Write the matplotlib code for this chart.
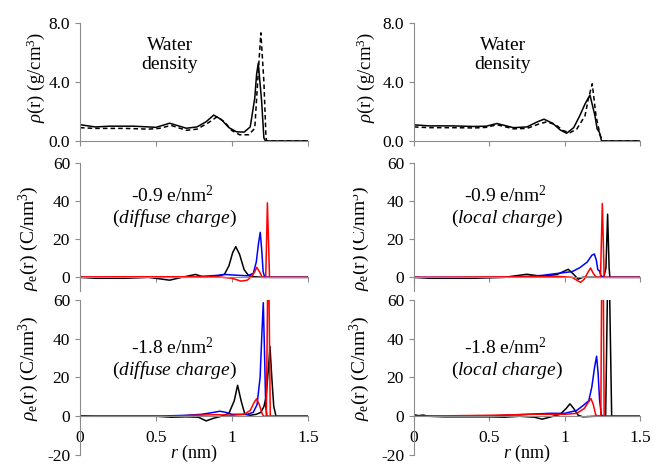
import matplotlib
matplotlib.use('Agg')
import matplotlib.pyplot as plt
from matplotlib.transforms import Bbox, TransformedBbox

plt.rcParams['font.family'] = 'Liberation Serif'
plt.rcParams['mathtext.fontset'] = 'custom'
plt.rcParams['mathtext.rm'] = 'Liberation Serif'
plt.rcParams['mathtext.it'] = 'Liberation Serif:italic'
plt.rcParams['axes.unicode_minus'] = False

# ---- water density, diffuse charge column (g/cm3)
r_wat_dif_solid = [0, 0.1, 0.2, 0.35, 0.45, 0.5, 0.59, 0.7, 0.77, 0.83, 0.88, 0.93, 0.98,
                   1.03, 1.08, 1.12, 1.15, 1.162, 1.173, 1.195, 1.21, 1.22, 1.5]
wat_dif_solid = [1.1, 0.95, 1.0, 1.0, 0.95, 0.92, 1.2, 0.86, 0.95, 1.3, 1.75, 1.45, 0.9,
                 0.62, 0.6, 0.95, 2.9, 4.5, 5.25, 2.7, 0.2, 0.0, 0.0]
r_wat_dif_dash = [0, 0.1, 0.3, 0.45, 0.52, 0.6, 0.7, 0.77, 0.84, 0.9, 0.95, 1.0, 1.05,
                  1.11, 1.15, 1.169, 1.19, 1.21, 1.224, 1.23, 1.5]
wat_dif_dash = [0.9, 0.85, 0.85, 0.8, 0.85, 1.05, 0.72, 0.8, 1.2, 1.62, 1.3, 0.7, 0.42,
                0.42, 0.85, 4.0, 7.3, 4.0, 0.2, 0.0, 0.0]

# ---- water density, local charge column
r_wat_loc_solid = [0, 0.1, 0.25, 0.4, 0.48, 0.55, 0.66, 0.75, 0.82, 0.863, 0.92, 0.97, 1.013,
                   1.06, 1.1, 1.135, 1.168, 1.201, 1.216, 1.23, 1.245, 1.5]
wat_loc_solid = [1.09, 1.02, 1.02, 0.98, 1.0, 1.18, 0.9, 0.95, 1.3, 1.47, 1.2, 0.75, 0.52,
                 0.9, 1.7, 2.5, 3.1, 1.7, 0.8, 0.6, 0.0, 0.0]
r_wat_loc_dash = [0, 0.1, 0.25, 0.4, 0.48, 0.55, 0.66, 0.75, 0.83, 0.88, 0.94, 0.99, 1.035,
                  1.08, 1.135, 1.157, 1.183, 1.208, 1.234, 1.25, 1.5]
wat_loc_dash = [0.95, 0.9, 0.9, 0.88, 0.92, 1.1, 0.82, 0.85, 1.15, 1.29, 1.1, 0.7, 0.56,
                0.8, 1.7, 2.84, 3.86, 1.7, 0.45, 0.0, 0.0]

# ---- charge density, -0.9 e/nm2, diffuse charge (C/nm3)
r_q09_dif_k = [0, 0.1, 0.3, 0.45, 0.59, 0.67, 0.76, 0.82, 0.9, 0.95, 0.98, 1.005, 1.025,
               1.05, 1.08, 1.11, 1.15, 1.2, 1.5]
q09_dif_k = [0, -0.5, -0.5, 0, -1.5, 0, 1.5, 0, 0.5, 1.5, 6, 13, 16, 12, 4, 0.8, 0.3, 0, 0]
r_q09_dif_b = [0, 0.7, 0.8, 0.9, 0.95, 1.05, 1.1, 1.14, 1.16, 1.175, 1.186, 1.195, 1.205,
               1.215, 1.5]
q09_dif_b = [0, 0, 0.5, 1.0, 1.5, 1.0, 0.8, 2, 8, 18, 23.5, 15, 3, 0, 0]
r_q09_dif_r = [0, 0.3, 0.5, 0.9, 1.0, 1.06, 1.1, 1.13, 1.15, 1.163, 1.18, 1.2, 1.222,
               1.228, 1.233, 1.24, 1.247, 1.5]
q09_dif_r = [0.2, 0.3, 0.3, 0.3, -0.5, -2, -1.5, 0.5, 3, 5.2, 3, 0, 0, 20, 38.9, 20, 0, 0]

# ---- charge density, -0.9 e/nm2, local charge
r_q09_loc_k = [0, 0.1, 0.4, 0.6, 0.75, 0.85, 0.95, 1.024, 1.06, 1.09, 1.12, 1.26, 1.274,
               1.285, 1.295, 1.3, 1.5]
q09_loc_k = [0, -0.5, -0.5, 0, 1.6, 0.5, 1.5, 4.2, 1.5, -1, 0, 0, 5, 33, 5, 0, 0]
r_q09_loc_b = [0, 0.6, 0.75, 0.85, 0.95, 1.05, 1.1, 1.15, 1.18, 1.197, 1.21, 1.22, 1.23,
               1.24, 1.255, 1.5]
q09_loc_b = [0, 0, 0.5, 1, 2, 3, 5, 8, 11.5, 12.2, 9, 4, 3.5, 1, 0, 0]
r_q09_loc_r = [0, 0.5, 0.9, 0.95, 1.05, 1.09, 1.106, 1.13, 1.15, 1.172, 1.19, 1.21, 1.238,
               1.244, 1.25, 1.256, 1.262, 1.5]
q09_loc_r = [0, 0.2, 0.3, 0.5, 0, -2, -2.6, -1, 2, 4.9, 2, 0, 0, 20, 38.6, 20, 0, 0]

# ---- charge density, -1.8 e/nm2, diffuse charge
r_q18_dif_k = [0, 0.1, 0.5, 0.6, 0.7, 0.78, 0.83, 0.88, 0.93, 0.98, 1.015, 1.037, 1.06,
               1.085, 1.12, 1.16, 1.19, 1.21, 1.225, 1.24, 1.25, 1.262, 1.275, 1.29, 1.5]
q18_dif_k = [0.3, 0, 0, -0.5, -0.3, -0.5, -2.4, -1, 0, 1.5, 8, 16, 8, 1, 0.5, 1, 2, 5,
             10, 25, 36, 20, 5, 0, 0]
r_q18_dif_b = [0, 0.5, 0.7, 0.8, 0.88, 0.92, 0.96, 1.0, 1.05, 1.1, 1.14, 1.165, 1.185,
               1.198, 1.206, 1.215, 1.222, 1.23, 1.5]
q18_dif_b = [0, 0, 0.5, 1, 2, 2.6, 2, 1, 1, 1, 2, 6, 20, 45, 58.6, 30, 5, 0, 0]
r_q18_dif_r = [0, 0.6, 0.75, 0.9, 1.0, 1.08, 1.12, 1.145, 1.162, 1.18, 1.2, 1.21, 1.226,
               1.236, 1.242, 1.252, 1.5]
q18_dif_r = [0, 0, 0.5, 0.8, 0.5, 1, 3, 7, 9, 6, 1, 0, 0, 75, 75, 0, 0]

# ---- charge density, -1.8 e/nm2, local charge
r_q18_loc_k = [0, 0.03, 0.06, 0.1, 0.2, 0.5, 0.6, 0.7, 0.8, 0.85, 0.9, 0.97, 1.01, 1.035,
               1.06, 1.09, 1.12, 1.2, 1.272, 1.285, 1.297, 1.312, 1.5]
q18_loc_k = [0.8, 0.3, 0.6, 0, -0.3, -0.3, -0.5, 0, -0.5, -1.5, -0.5, 1, 4, 6.4, 4, 0.5,
             -0.3, 0, 0, 70, 70, 0, 0]
r_q18_loc_b = [0, 0.5, 0.6, 0.75, 0.9, 1.0, 1.08, 1.13, 1.16, 1.18, 1.198, 1.212, 1.222,
               1.232, 1.243, 1.25, 1.5]
q18_loc_b = [0, 0, 0.5, 1, 1.5, 1.5, 3, 6, 8, 15, 25, 31, 22, 8, 1, 0, 0]
r_q18_loc_r = [0, 0.5, 0.8, 1.0, 1.08, 1.13, 1.155, 1.175, 1.19, 1.205, 1.215, 1.24,
               1.246, 1.256, 1.262, 1.5]
q18_loc_r = [0, 0.5, 1, 1, 1.5, 4, 7, 9.1, 6, 1, 0, 0, 75, 75, 0, 0]

x_ticks = [0, 0.5, 1, 1.5]
x_tick_labels = ['0', '0.5', '1', '1.5']

AXIS_GRAY = '#8c8c8c'
LW = 1.1

fig = plt.figure(figsize=(6.54, 4.67), dpi=100)

col_left = [0.1223, 0.6330]
col_width = [0.3486, 0.3456]
row_rect = [(0.6981, 0.2537), (0.3775, 0.2745), (0.0257, 0.3319)]
row_ylim = [(0, 8), (-7, 60), (-20, 60)]
ylabel_y = [0.54, 0.41, 0.56]
# ylabel x offsets (axes fraction), per row and column
ylabel_x = [(-0.195, -0.215), (-0.224, -0.239), (-0.224, -0.239)]


def style_axes(ax, row):
    for side in ['top', 'right']:
        ax.spines[side].set_visible(False)
    ax.spines['left'].set_color(AXIS_GRAY)
    ax.spines['bottom'].set_color(AXIS_GRAY)
    ax.spines['bottom'].set_position(('data', 0))
    ax.tick_params(axis='both', direction='out', length=3.6, width=0.8,
                   color=AXIS_GRAY, labelsize=12.5)
    ax.tick_params(axis='x', pad=6)
    ax.set_xticks(x_ticks)
    if row == 0:
        ax.set_yticks([0, 4, 8])
        ax.set_yticklabels(['0.0', '4.0', '8.0'])
    else:
        ax.set_yticks([-20, 0, 20, 40, 60])
    if row == 2:
        ax.set_xticklabels(x_tick_labels)
        ax.set_xlabel('$r$ (nm)', fontsize=13)
        ax.xaxis.set_label_coords(0.5, 0.075)
    else:
        ax.set_xticklabels([])
    # limits last, so the tick lists do not widen them
    ax.set_xlim(0, 1.5)
    ax.set_ylim(*row_ylim[row])


axes = {}
for row in range(3):
    for col in range(2):
        ax = fig.add_axes([col_left[col], row_rect[row][0], col_width[col], row_rect[row][1]])
        style_axes(ax, row)
        axes[(row, col)] = ax

# water density
for col, (rs, s, rd, d) in enumerate([
        (r_wat_dif_solid, wat_dif_solid, r_wat_dif_dash, wat_dif_dash),
        (r_wat_loc_solid, wat_loc_solid, r_wat_loc_dash, wat_loc_dash)]):
    ax = axes[(0, col)]
    ax.plot(rs, s, color='black', lw=LW)
    ax.plot(rd, d, color='black', lw=LW, linestyle=(0, (3, 2)))
    ax.set_ylabel(r'$\rho$(r) (g/cm$^3$)', fontsize=13.5, va='center')
    ax.text(0.59, 5.8, 'Water\ndensity', fontsize=14, ha='center', va='center',
            linespacing=1.2)

charge_sets = {
    (1, 0): [(r_q09_dif_k, q09_dif_k), (r_q09_dif_b, q09_dif_b), (r_q09_dif_r, q09_dif_r)],
    (1, 1): [(r_q09_loc_k, q09_loc_k), (r_q09_loc_b, q09_loc_b), (r_q09_loc_r, q09_loc_r)],
    (2, 0): [(r_q18_dif_k, q18_dif_k), (r_q18_dif_b, q18_dif_b), (r_q18_dif_r, q18_dif_r)],
    (2, 1): [(r_q18_loc_k, q18_loc_k), (r_q18_loc_b, q18_loc_b), (r_q18_loc_r, q18_loc_r)],
}
line_colors = ['black', 'blue', 'red']
charge_text = {1: '-0.9 e/nm$^2$', 2: '-1.8 e/nm$^2$'}
model_text = {0: r'($\mathit{diffuse\ charge}$)', 1: r'($\mathit{local\ charge}$)'}
text_y = {1: (42.5, 31), 2: (35.7, 23.8)}

for (row, col), series in charge_sets.items():
    ax = axes[(row, col)]
    for (r, q), c in zip(series, line_colors):
        ax.plot(r, q, color=c, lw=LW)
    ax.set_ylabel(r'$\rho_\mathrm{e}$(r) (C/nm$^3$)', fontsize=14, va='center')
    ax.text(0.61, text_y[row][0], charge_text[row], fontsize=14, ha='center', va='center')
    ax.text(0.62, text_y[row][1], model_text[col], fontsize=14, ha='center', va='center')

for (row, col), ax in axes.items():
    ax.yaxis.set_label_coords(ylabel_x[row][col], ylabel_y[row])

# the middle right label is cut at the panel edge
lbl = axes[(1, 1)].yaxis.label
lbl.set_clip_box(TransformedBbox(Bbox([[353 / 654, 0], [1, 1]]), fig.transFigure))
lbl.set_clip_on(True)

fig.savefig('out.png', dpi=100)
